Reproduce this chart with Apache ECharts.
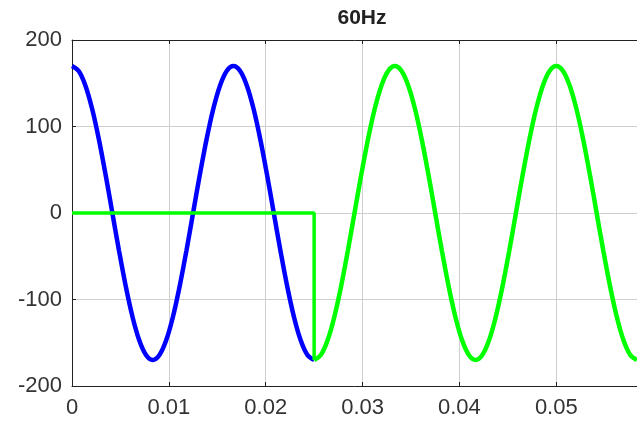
<!DOCTYPE html>
<html><head><meta charset="utf-8">
<script src="https://cdn.jsdelivr.net/npm/echarts@6/dist/echarts.min.js"></script>
<style>html,body{margin:0;padding:0;background:#fff}#c{width:637px;height:428px}</style>
</head><body><div id="c"></div>
<script>
const title = '60Hz';
const blueT = [0,0.000694,0.001389,0.002083,0.002778,0.003472,0.004167,0.004861,0.005556,0.00625,0.006944,0.007639,0.008333,0.009028,0.009722,0.010417,0.011111,0.011806,0.0125,0.013194,0.013889,0.014583,0.015278,0.015972,0.016667,0.017361,0.018056,0.01875,0.019444,0.020139,0.020833,0.021528,0.022222,0.022917,0.023611,0.024306,0.025];
const blueV = [170,164.2,147.2,120.2,85,44,0,-44,-85,-120.2,-147.2,-164.2,-170,-164.2,-147.2,-120.2,-85,-44,0,44,85,120.2,147.2,164.2,170,164.2,147.2,120.2,85,44,0,-44,-85,-120.2,-147.2,-164.2,-170];
const stepT = [0,0.025,0.025];
const stepV = [0,0,-170];
const greenT = [0.025,0.025694,0.026389,0.027083,0.027778,0.028472,0.029167,0.029861,0.030556,0.03125,0.031944,0.032639,0.033333,0.034028,0.034722,0.035417,0.036111,0.036806,0.0375,0.038194,0.038889,0.039583,0.040278,0.040972,0.041667,0.042361,0.043056,0.04375,0.044444,0.045139,0.045833,0.046528,0.047222,0.047917,0.048611,0.049306,0.05,0.050694,0.051389,0.052083,0.052778,0.053472,0.054167,0.054861,0.055556,0.05625,0.056944,0.057639,0.058333];
const greenV = [-170,-164.2,-147.2,-120.2,-85,-44,0,44,85,120.2,147.2,164.2,170,164.2,147.2,120.2,85,44,0,-44,-85,-120.2,-147.2,-164.2,-170,-164.2,-147.2,-120.2,-85,-44,0,44,85,120.2,147.2,164.2,170,164.2,147.2,120.2,85,44,0,-44,-85,-120.2,-147.2,-164.2,-170];
const yTicks = [-200,-100,0,100,200];

const zip = (a,b) => a.map((x,i)=>[x,b[i]]);
const chart = echarts.init(document.getElementById('c'), null, {renderer:'canvas'});
const font = 'Liberation Sans, Arial, sans-serif';
chart.setOption({
  animation:false,
  title:{text:title,left:357,top:3,textAlign:'center',textStyle:{fontFamily:font,fontWeight:'bold',fontSize:21,color:'#222'}},
  grid:{left:72,right:0,top:40,bottom:42},
  xAxis:[{type:'value',min:0,max:0.058333,interval:0.01,
    axisLine:{onZero:false,lineStyle:{color:'#222',width:1}},
    axisTick:{inside:true,length:4,lineStyle:{color:'#222'}},
    axisLabel:{color:'#333',fontSize:22,fontFamily:font,margin:11,showMaxLabel:false},
    splitLine:{show:true,lineStyle:{color:'#cfcfcf',width:1}}},
   {type:'value',position:'top',min:0,max:0.058333,interval:0.01,
    axisLine:{show:true,onZero:false,lineStyle:{color:'#222',width:1}},
    axisTick:{show:true,inside:true,length:4,lineStyle:{color:'#222'}},
    axisLabel:{show:false},splitLine:{show:false}}],
  yAxis:{type:'value',min:yTicks[0],max:yTicks[yTicks.length-1],interval:100,
    axisLine:{show:true,onZero:false,lineStyle:{color:'#222',width:1}},
    axisTick:{show:true,inside:true,length:4,lineStyle:{color:'#222'}},
    axisLabel:{color:'#333',fontSize:22,fontFamily:font,margin:10},
    splitLine:{show:true,lineStyle:{color:'#cfcfcf',width:1}}},
  series:[
    {type:'line',data:zip(blueT,blueV),smooth:0.35,showSymbol:false,lineStyle:{color:'#0000ff',width:4.5},z:2},
    {type:'line',data:zip(stepT,stepV),showSymbol:false,lineStyle:{color:'#00ff00',width:3.5},z:3},
    {type:'line',data:zip(greenT,greenV),smooth:0.35,showSymbol:false,lineStyle:{color:'#00ff00',width:4.5},z:3}
  ]
});
</script></body></html>
